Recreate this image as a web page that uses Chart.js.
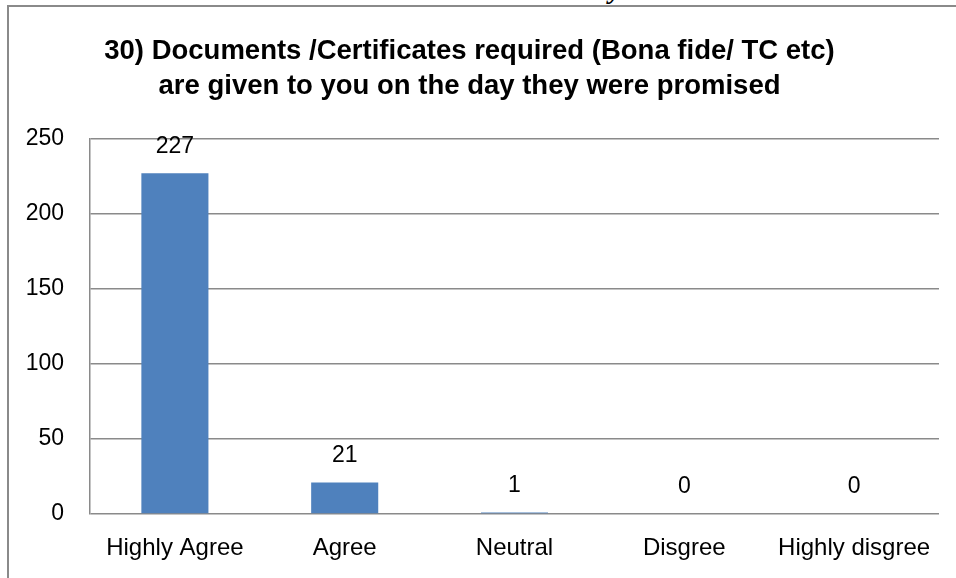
<!DOCTYPE html>
<html>
<head>
<meta charset="utf-8">
<script src="https://cdn.jsdelivr.net/npm/chart.js@4"></script>
<style>
  html, body { margin: 0; padding: 0; background: #fff; }
  #wrap { position: relative; width: 956px; height: 578px; overflow: hidden; }
  #frame { position: absolute; left: 7px; top: 5px; right: -5px; bottom: -5px;
           border-left: 2px solid #8a8a8a; border-top: 2px solid #8a8a8a; }
  #stray { position: absolute; left: 609px; top: -27px; font: italic bold 28px "Liberation Serif", serif; color: #000; }
  canvas { position: absolute; left: 0; top: 0; }
</style>
</head>
<body>
<div id="wrap">
  <div id="frame"></div>
  <span id="stray">y</span>
  <canvas id="c" width="956" height="578"></canvas>
</div>
<script>
const categories = ['Highly Agree', 'Agree', 'Neutral', 'Disgree', 'Highly disgree'];
const responses = [227, 21, 1, 0, 0];
const titleLines = ['30) Documents /Certificates required (Bona fide/ TC etc)', 'are given to you on the day they were promised'];

const FONT = "'Liberation Sans', Arial, sans-serif";
const GRID = '#8a8a8a';

const valueLabels = {
  id: 'valueLabels',
  afterDatasetsDraw(chart) {
    const ctx = chart.ctx;
    const meta = chart.getDatasetMeta(0);
    ctx.save();
    ctx.font = '23px ' + FONT;
    ctx.fillStyle = '#000';
    ctx.textAlign = 'center';
    ctx.textBaseline = 'middle';
    meta.data.forEach((bar, i) => {
      ctx.fillText(String(responses[i]), bar.x, bar.y - 27);
    });
    ctx.restore();
  }
};

new Chart(document.getElementById('c'), {
  type: 'bar',
  data: {
    labels: categories,
    datasets: [{
      data: responses,
      backgroundColor: '#4F81BD',
      categoryPercentage: 1,
      barPercentage: 0.395
    }]
  },
  options: {
    responsive: false,
    animation: false,
    layout: { padding: { left: 0, right: 17, top: 0, bottom: 0 } },
    plugins: {
      legend: { display: false },
      tooltip: { enabled: false },
      title: {
        display: true,
        text: titleLines,
        color: '#000',
        font: { family: FONT, size: 27.5, weight: 'bold', lineHeight: 1.27 },
        padding: { top: 34, bottom: 35 }
      }
    },
    scales: {
      x: {
        grid: { display: false, drawTicks: false },
        border: { display: false },
        ticks: { color: '#000', font: { family: FONT, size: 24 }, padding: 20, maxRotation: 0 },
        afterFit(scale) { scale.height = 64; }
      },
      y: {
        min: 0,
        max: 250,
        ticks: { stepSize: 50, color: '#000', font: { family: FONT, size: 23 }, padding: 26 },
        grid: { color: GRID, lineWidth: 1.5, drawTicks: false },
        border: { display: true, color: GRID, width: 1.5 },
        afterFit(scale) { scale.width = 90; }
      }
    }
  },
  plugins: [valueLabels]
});
</script>
</body>
</html>
